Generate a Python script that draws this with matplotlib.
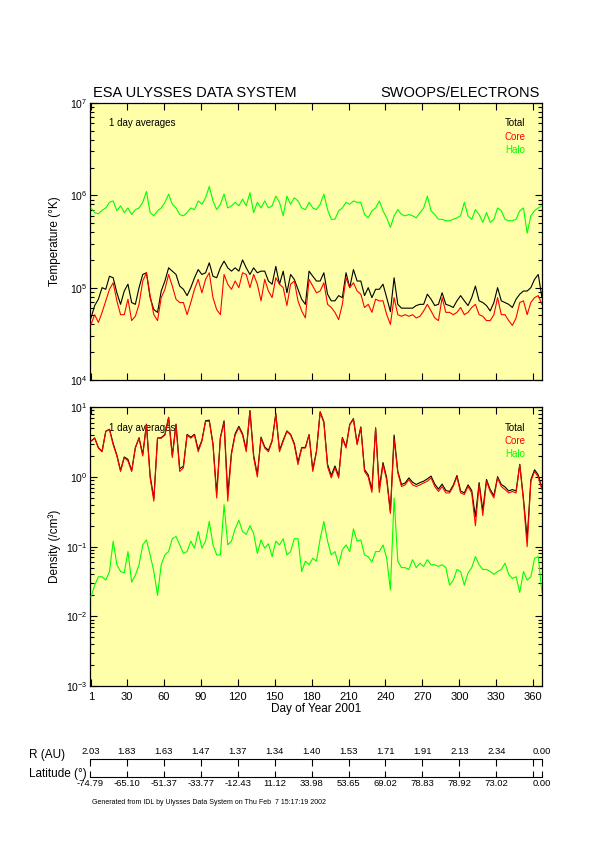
import numpy as np
import matplotlib.pyplot as plt
from matplotlib.ticker import LogLocator, LogFormatterMathtext, NullFormatter, NullLocator

plt.rcParams['font.family'] = ['Liberation Sans', 'DejaVu Sans']
plt.rcParams['mathtext.fontset'] = 'custom'
plt.rcParams['mathtext.rm'] = 'Liberation Sans'
plt.rcParams['mathtext.it'] = 'Liberation Sans:italic'
plt.rcParams['mathtext.bf'] = 'Liberation Sans:bold'

days = np.arange(1, 368, 3)

# electron temperatures, units of 1e5 K
temp_total = [0.47, 0.64, 0.75, 1.0, 0.96, 1.33, 1.28, 0.88, 0.66, 0.92,
              1.09, 0.69, 0.66, 1.0, 1.39, 1.45, 0.78, 0.58, 0.54, 0.92,
              1.18, 1.64, 1.51, 1.39, 1.04, 0.96, 0.82, 1.0, 1.28, 1.57,
              1.39, 1.45, 1.86, 1.33, 1.28, 1.64, 1.94, 1.64, 1.51, 1.64,
              1.51, 2.0,
              1.64, 1.39, 1.64, 1.45, 1.51, 1.51, 1.18, 1.09, 1.70, 1.09,
              1.51, 0.88, 1.39, 1.23, 0.96, 0.75, 0.66, 1.51, 1.33, 1.18,
              1.18, 1.45, 0.85, 0.72, 0.72, 0.82, 0.78, 1.45, 1.0, 1.57,
              1.18, 1.18, 0.82, 1.0, 0.78, 0.96, 0.96, 1.09, 0.78, 0.55,
              1.28, 0.66, 0.60, 0.60, 0.60, 0.60, 0.64, 0.66, 0.66, 0.85,
              0.75, 0.64, 0.66, 0.88, 0.66, 0.64, 0.61, 0.72, 0.82, 0.72,
              0.64, 0.78, 1.04, 0.72, 0.69, 0.64, 0.56, 0.69, 1.0, 0.72,
              0.69, 0.66, 0.61, 0.75, 0.85, 0.92, 0.92, 1.0, 1.23, 1.39, 0.78]
temp_core = [0.40, 0.51, 0.42, 0.54, 0.72, 0.96, 1.13, 0.72, 0.51, 0.51,
             0.75, 0.44, 0.49, 0.66, 1.18, 1.45, 0.82, 0.51, 0.44, 0.78,
             0.96, 1.39, 1.04, 0.75, 0.69, 0.69, 0.51, 0.69, 0.96, 1.23,
             0.88, 1.23, 1.45, 0.78, 0.58, 0.51, 1.39, 1.09, 0.96, 1.18,
             1.0, 1.45,
             1.39, 1.0, 1.39, 1.09, 0.72, 1.23, 0.92, 0.78, 1.28, 1.09,
             1.0, 0.64, 1.09, 1.18, 0.72, 0.56, 0.47, 1.23, 1.04, 0.88,
             0.92, 1.13, 0.66, 0.61, 0.54, 0.45, 0.66, 1.28, 1.0, 1.13,
             0.92, 0.85, 0.61, 0.66, 0.54, 0.75, 0.72, 0.72, 0.51, 0.40,
             0.78, 0.51, 0.49, 0.51, 0.49, 0.51, 0.47, 0.49, 0.56, 0.66,
             0.56, 0.47, 0.44, 0.78, 0.54, 0.54, 0.51, 0.54, 0.61, 0.51,
             0.54, 0.61, 0.66, 0.51, 0.49, 0.44, 0.44, 0.51, 0.78, 0.51,
             0.51, 0.44, 0.39, 0.47, 0.69, 0.72, 0.51, 0.69, 0.78, 0.82, 0.66]
temp_halo = [7.3, 6.5, 6.3, 6.9, 7.3, 8.4, 8.7, 6.8, 7.7, 6.5,
             7.3, 6.2, 7.0, 7.3, 8.4, 11.0, 6.5, 6.0, 6.8, 7.3,
             8.4, 10.3, 8.0, 7.3, 6.2, 6.0, 6.5, 7.3, 7.0, 8.7,
             8.0, 9.4, 12.5, 8.7, 7.0, 8.0, 10.3, 7.3, 7.7, 8.4,
             7.7, 9.1,
             7.7, 10.7, 6.5, 8.4, 7.3, 8.7, 7.3, 7.7, 9.8, 8.4,
             6.0, 9.8, 8.0, 9.4, 8.7, 7.3, 7.0, 8.4, 7.3, 7.0,
             8.0, 10.3, 7.0, 5.5, 5.5, 6.8, 7.3, 8.4, 8.0, 8.7,
             8.4, 8.4, 6.2, 5.7, 6.8, 7.3, 8.7, 6.8, 5.7, 4.5,
             6.0, 7.0, 6.2, 6.0, 6.2, 6.0, 5.7, 6.5, 7.3, 9.8,
             6.8, 6.2, 5.5, 5.5, 5.3, 5.3, 5.5, 5.7, 6.0, 8.4,
             6.0, 5.5, 7.0, 6.2, 5.1, 6.5, 5.1, 5.5, 7.3, 6.8,
             5.5, 5.3, 5.3, 5.5, 6.8, 7.3, 3.9, 6.0, 6.8, 7.3, 7.7]

# electron densities, /cm^3
dens_total = [3.27, 3.63, 2.64, 2.34, 4.53, 4.84, 3.02, 2.06, 1.24, 1.94,
              1.79, 1.23, 2.64, 3.66, 2.11, 5.73, 1.05, 0.49, 3.62, 3.66,
              4.08, 7.19, 2.03, 5.74, 1.31, 1.43, 4.09, 3.72, 4.10, 2.47,
              3.35, 6.42, 6.53, 3.01, 0.58, 3.68, 6.4, 0.56, 2.22, 4.18,
              5.34, 4.17,
              2.45, 9.0, 2.06, 1.08, 3.73, 2.70, 2.41, 3.32, 8.12, 2.41,
              3.38, 4.58, 4.09, 3.03, 1.63, 2.64, 2.66, 4.06, 1.27, 2.36,
              8.63, 6.23, 1.52, 1.05, 1.44, 1.03, 3.69, 2.71, 5.69, 6.88,
              3.02, 5.23, 1.28, 1.07, 0.66, 5.09, 0.69, 1.61, 0.97, 0.32,
              4.0, 1.21, 0.78, 0.82, 0.97, 0.84, 0.78, 0.83, 0.87, 0.94,
              1.03, 0.79, 0.67, 0.79, 0.64, 0.62, 0.76, 1.05, 0.63, 0.59,
              0.77, 0.64, 0.27, 0.83, 0.33, 0.92, 0.66, 0.54, 1.01, 0.78,
              0.72, 0.63, 0.66, 0.63, 1.52, 0.49, 0.13, 0.91, 1.27, 1.07, 0.68]
dens_core = [3.25, 3.6, 2.6, 2.3, 4.5, 4.8, 2.9, 2.0, 1.2, 1.9,
             1.7, 1.2, 2.6, 3.6, 2.0, 5.6, 0.97, 0.45, 3.6, 3.6,
             4.0, 7.1, 1.9, 5.6, 1.2, 1.35, 4.0, 3.6, 4.0, 2.3,
             3.25, 6.3, 6.3, 2.9, 0.5, 3.6, 6.0, 0.45, 2.1, 4.0,
             5.1, 4.0,
             2.3, 8.8, 1.9, 1.0, 3.6, 2.6, 2.3, 3.25, 8.0, 2.3,
             3.25, 4.5, 4.0, 2.9, 1.5, 2.6, 2.6, 4.0, 1.2, 2.3,
             8.5, 6.0, 1.4, 0.97, 1.35, 0.97, 3.6, 2.6, 5.6, 6.7,
             2.9, 5.1, 1.2, 1.0, 0.6, 5.0, 0.6, 1.5, 0.9, 0.3,
             3.5, 1.15, 0.73, 0.77, 0.92, 0.77, 0.73, 0.77, 0.82, 0.87,
             0.97, 0.73, 0.62, 0.73, 0.59, 0.59, 0.73, 1.0, 0.59, 0.56,
             0.73, 0.59, 0.2, 0.77, 0.28, 0.87, 0.62, 0.5, 0.97, 0.73,
             0.66, 0.59, 0.62, 0.59, 1.5, 0.45, 0.1, 0.87, 1.2, 1.0, 0.66]
dens_halo = [0.019, 0.028, 0.037, 0.037, 0.033, 0.044, 0.12, 0.055, 0.044, 0.042,
             0.085, 0.031, 0.039, 0.055, 0.106, 0.125, 0.076, 0.044, 0.02, 0.055,
             0.076, 0.085, 0.13, 0.14, 0.106, 0.08, 0.085, 0.12, 0.095, 0.165,
             0.095, 0.12, 0.23, 0.106, 0.076, 0.076, 0.40, 0.106, 0.12, 0.18,
             0.24, 0.165,
             0.15, 0.20, 0.155, 0.08, 0.125, 0.095, 0.11, 0.072, 0.12, 0.106,
             0.13, 0.076, 0.085, 0.13, 0.13, 0.044, 0.062, 0.055, 0.068, 0.062,
             0.13, 0.23, 0.12, 0.076, 0.085, 0.055, 0.09, 0.106, 0.085, 0.18,
             0.12, 0.125, 0.076, 0.072, 0.06, 0.085, 0.085, 0.106, 0.068, 0.024,
             0.5, 0.062, 0.05, 0.05, 0.047, 0.065, 0.05, 0.058, 0.052, 0.065,
             0.055, 0.055, 0.052, 0.055, 0.05, 0.028, 0.033, 0.047, 0.044, 0.028,
             0.042, 0.05, 0.072, 0.055, 0.047, 0.047, 0.044, 0.04, 0.044, 0.047,
             0.058, 0.04, 0.035, 0.037, 0.022, 0.044, 0.033, 0.037, 0.068, 0.072, 0.022]

day_ticks = [1, 30, 60, 90, 120, 150, 180, 210, 240, 270, 300, 330, 360]

# spacecraft position axis
r_labels = ['2.03', '1.83', '1.63', '1.47', '1.37', '1.34', '1.40',
            '1.53', '1.71', '1.91', '2.13', '2.34', '0.00']
lat_labels = ['-74.79', '-65.10', '-51.37', '-33.77', '-12.43', '11.12', '33.98',
              '53.65', '69.02', '78.83', '78.92', '73.02', '0.00']

YELLOW = '#ffffaa'
RED = '#ff0000'
GREEN = '#00ff00'
XLIM = (0.6, 366.8)
W, H = 595, 842


def box(x0, y0, x1, y1):
    # pixel box (from top-left) -> figure fraction
    return [x0 / W, 1 - y1 / H, (x1 - x0) / W, (y1 - y0) / H]


fig = plt.figure(figsize=(W / 100, H / 100), dpi=100)
fig.patch.set_facecolor('white')

ax_t = fig.add_axes(box(90.5, 103, 541.7, 380))
ax_d = fig.add_axes(box(90.5, 407.3, 541.7, 686))

for ax in (ax_t, ax_d):
    ax.set_facecolor(YELLOW)
    ax.set_yscale('log')
    ax.set_xlim(XLIM)
    ax.set_xticks(day_ticks)
    ax.xaxis.set_minor_locator(NullLocator())
    ax.yaxis.set_major_locator(LogLocator(base=10, numticks=12))
    ax.yaxis.set_minor_locator(LogLocator(base=10, subs=np.arange(2, 10), numticks=12))
    ax.yaxis.set_major_formatter(LogFormatterMathtext())
    ax.yaxis.set_minor_formatter(NullFormatter())
    ax.tick_params(which='both', direction='in', top=True, right=True,
                   width=0.8, color='black')
    ax.tick_params(which='major', length=5, labelsize=7.5, pad=2)
    ax.tick_params(which='minor', length=3)
    for s in ax.spines.values():
        s.set_linewidth(0.9)
    ax.text(0.040, 0.926, '1 day averages', transform=ax.transAxes,
            fontsize=7, va='center', ha='left', zorder=1)
    for yy, name, col in ((0.926, 'Total', 'black'), (0.879, 'Core', RED),
                          (0.832, 'Halo', GREEN)):
        ax.text(0.963, yy, name, color=col, transform=ax.transAxes,
                fontsize=7, va='center', ha='right', zorder=1)

# temperature panel
ax_t.plot(days, np.array(temp_total) * 1e5, color='black', lw=0.8, zorder=2)
ax_t.plot(days, np.array(temp_core) * 1e5, color=RED, lw=0.8, zorder=3)
ax_t.plot(days, np.array(temp_halo) * 1e5, color=GREEN, lw=0.8, zorder=3)
ax_t.set_ylim(1e4, 1e7)
ax_t.tick_params(axis='x', labelbottom=False)
ax_t.set_ylabel('Temperature (°K)', fontsize=8.5)
ax_t.yaxis.set_label_coords(-0.066, 0.5)

# density panel
ax_d.plot(days, dens_total, color='black', lw=0.8, zorder=2)
ax_d.plot(days, dens_core, color=RED, lw=0.8, zorder=3)
ax_d.plot(days, dens_halo, color=GREEN, lw=0.8, zorder=3)
ax_d.set_ylim(1e-3, 1e1)
ax_d.tick_params(axis='x', labelsize=8, pad=4)
ax_d.set_ylabel('Density (/cm³)', fontsize=8.5)
ax_d.yaxis.set_label_coords(-0.066, 0.5)
ax_d.set_xlabel('Day of Year 2001', fontsize=8.5)
ax_d.xaxis.set_label_coords(0.5, -0.062)

fig.text(93 / W, 1 - 97.3 / H, 'ESA ULYSSES DATA SYSTEM', fontsize=10.5,
         ha='left', va='baseline')
fig.text(539.5 / W, 1 - 97.3 / H, 'SWOOPS/ELECTRONS', fontsize=10.5,
         ha='right', va='baseline')

# orbit (R, latitude) scale under the plot; y data = pixel rows
ax_o = fig.add_axes(box(90.5, 740, 541.7, 810))
ax_o.set_xlim(XLIM)
ax_o.set_ylim(810, 740)
ax_o.axis('off')
tick_x = [XLIM[0]] + day_ticks[1:] + [XLIM[1]]
label_x = [XLIM[0]] + day_ticks[1:-1] + [XLIM[1]]
ax_o.plot(XLIM, [759.3, 759.3], color='black', lw=0.8, clip_on=False)
ax_o.vlines(tick_x, 759.3, 766, color='black', lw=0.8, clip_on=False)
ax_o.plot(XLIM, [777.3, 777.3], color='black', lw=0.8, clip_on=False)
ax_o.vlines(tick_x, 770.7, 777.3, color='black', lw=0.8, clip_on=False)
for xx, rl, ll in zip(label_x, r_labels, lat_labels):
    ax_o.text(xx, 752, rl, fontsize=6.8, ha='center', va='center')
    ax_o.text(xx, 784, ll, fontsize=6.8, ha='center', va='center')

fig.text(29 / W, 1 - 755 / H, 'R (AU)', fontsize=8.5, ha='left', va='center')
fig.text(29 / W, 1 - 774 / H, 'Latitude (°)', fontsize=8.5, ha='left', va='center')
fig.text(91.5 / W, 1 - 802 / H,
         'Generated from IDL by Ulysses Data System on Thu Feb  7 15:17:19 2002',
         fontsize=5, ha='left', va='center')

fig.savefig('out.png', dpi=100)
